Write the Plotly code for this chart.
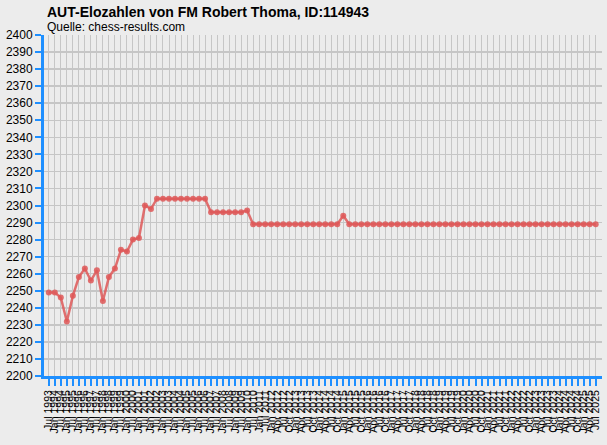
import plotly.graph_objects as go

# Rating periods: semiannual Jul 1993 .. Jul 2011, then quarterly Jan 2012 .. Jul 2025
periods = ["Jul 1993"]
for yr in range(1994, 2012):
    periods += [f"Jan {yr}", f"Jul {yr}"]
for yr in range(2012, 2026):
    for m in ["Jan", "Apr", "Jul", "Oct"]:
        if yr == 2025 and m == "Oct":
            continue
        periods.append(f"{m} {yr}")

elo = [2249, 2249, 2246, 2232, 2247, 2258, 2263, 2256, 2262, 2244,
       2258, 2263, 2274, 2273, 2280, 2281, 2300, 2298, 2304, 2304,
       2304, 2304, 2304, 2304, 2304, 2304, 2304, 2296, 2296, 2296,
       2296, 2296, 2296, 2297] + [2289] * 15 + [2294] + [2289] * 42

y_ticks = list(range(2200, 2401, 10))

x_idx = list(range(len(periods)))
blue = "#1e8fff"

fig = go.Figure()
fig.add_trace(go.Scatter(
    x=x_idx, y=elo, mode="lines+markers",
    line=dict(color="rgba(222,88,88,0.85)", width=2.5),
    marker=dict(color="rgba(222,88,88,0.85)", size=6),
    hoverinfo="skip", showlegend=False,
))

fig.update_layout(
    width=607, height=445,
    margin=dict(l=44, r=5, t=35, b=69, autoexpand=False),
    paper_bgcolor="#ececec", plot_bgcolor="#ececec",
    font=dict(family="Liberation Sans, Arial, sans-serif", color="black"),
    annotations=[
        dict(text="<b>AUT-Elozahlen von FM Robert Thoma, ID:114943</b>",
             xref="paper", yref="paper", x=0, y=1, xanchor="left", yanchor="middle",
             xshift=1, yshift=23, showarrow=False, font=dict(size=14)),
        dict(text="Quelle: chess-results.com",
             xref="paper", yref="paper", x=0, y=1, xanchor="left", yanchor="middle",
             xshift=1, yshift=8, showarrow=False, font=dict(size=12)),
    ],
)
fig.update_xaxes(
    range=[-0.8, 92.05], tickmode="array", tickvals=x_idx, ticktext=periods,
    tickangle=-90, tickfont=dict(size=10.5), automargin=False,
    showgrid=True, gridcolor="#c6c6c6", gridwidth=1,
    showline=True, linecolor=blue, linewidth=3,
    ticks="outside", ticklen=7, tickwidth=2, tickcolor=blue,
    zeroline=False, fixedrange=True,
)
fig.update_yaxes(
    range=[2200, 2400], tickmode="array", tickvals=y_ticks,
    ticktext=[str(v) for v in y_ticks], tickfont=dict(size=12), automargin=False,
    showgrid=True, gridcolor="#c6c6c6", gridwidth=1.5,
    showline=True, linecolor=blue, linewidth=3,
    ticks="outside", ticklen=6, tickwidth=2, tickcolor=blue,
    zeroline=False, fixedrange=True,
)

fig.write_html(
    "out.html",
    config={"displayModeBar": False, "staticPlot": True},
    post_script="document.body.style.margin='0';document.body.style.background='#ececec';",
)
